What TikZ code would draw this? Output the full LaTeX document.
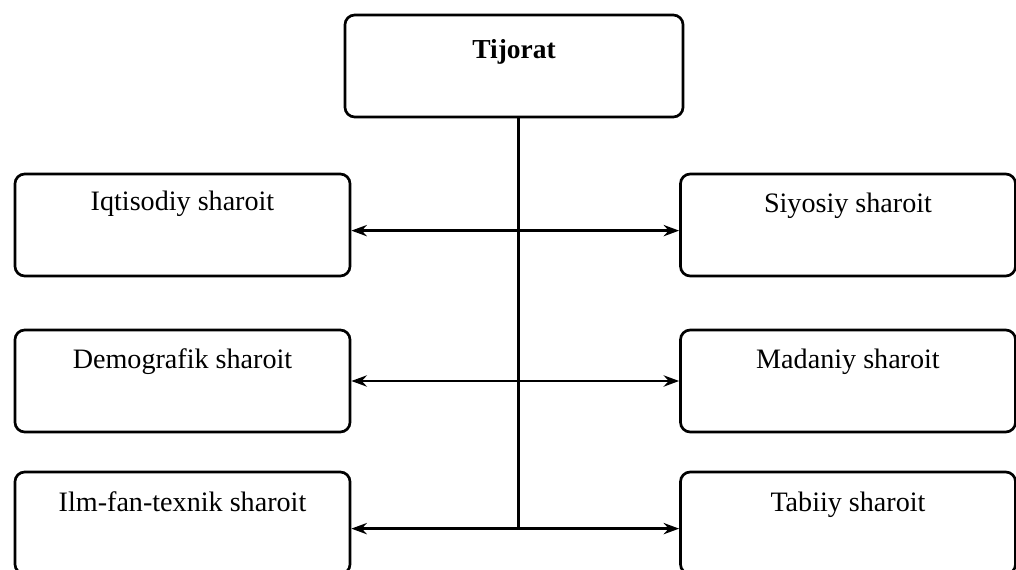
\documentclass[tikz,border=0pt]{standalone}
\usepackage{fontspec}
\setmainfont{Liberation Serif}
\usetikzlibrary{arrows.meta}
\begin{document}
\begin{tikzpicture}[x=0.025cm,y=-0.025cm,
  box/.style={draw,line width=1.9pt,rounded corners=7pt,minimum width=8.375cm,minimum height=2.55cm,inner sep=0pt},
  topbox/.style={box,minimum width=8.45cm},
  lbl/.style={font=\fontsize{20}{24}\selectfont,inner sep=0pt},
  link/.style={line width=1.8pt,{Stealth[length=11pt,width=8pt]}-{Stealth[length=11pt,width=8pt]}},
  trunk/.style={line width=2.2pt}]
\useasboundingbox (0,0) rectangle (1016,570);
\clip (0,0) rectangle (1016,570);
% central box
\node[topbox] (tij) at (514,66) {};
\node[lbl,font=\fontsize{19.5}{24}\selectfont\bfseries] (tijt) at ([yshift=-0.95cm]tij.north) {Tijorat};
% left column
\node[box] (iq) at (182.5,225) {};
\node[box] (dem) at (182.5,381) {};
\node[box] (ilm) at (182.5,523) {};
% right column
\node[box] (siy) at (848,225) {};
\node[box] (mad) at (848,381) {};
\node[box] (tab) at (848,523) {};
% labels
\node[lbl] (iqt) at ([yshift=-0.78cm]iq.north) {Iqtisodiy sharoit};
\node[lbl] (demt) at ([yshift=-0.83cm]dem.north) {Demografik sharoit};
\node[lbl] (ilmt) at ([yshift=-0.78cm]ilm.north) {Ilm-fan-texnik sharoit};
\node[lbl] (siyt) at ([yshift=-0.82cm]siy.north) {Siyosiy sharoit};
\node[lbl] (madt) at ([yshift=-0.82cm]mad.north) {Madaniy sharoit};
\node[lbl] (tabt) at ([yshift=-0.85cm]tab.north) {Tabiiy sharoit};
% connectors
\draw[link] ([yshift=-4pt]iq.east) -- ([yshift=-4pt]siy.west);
\draw[link] (dem.east) -- (mad.west);
\draw[link] ([yshift=-4pt]ilm.east) -- ([yshift=-4pt]tab.west);
\coordinate (foot) at ([yshift=-4pt]tij.south |- ilm.east);
\draw[trunk] ([xshift=3pt]tij.south) -- ([xshift=3pt]foot);
\end{tikzpicture}
\end{document}
